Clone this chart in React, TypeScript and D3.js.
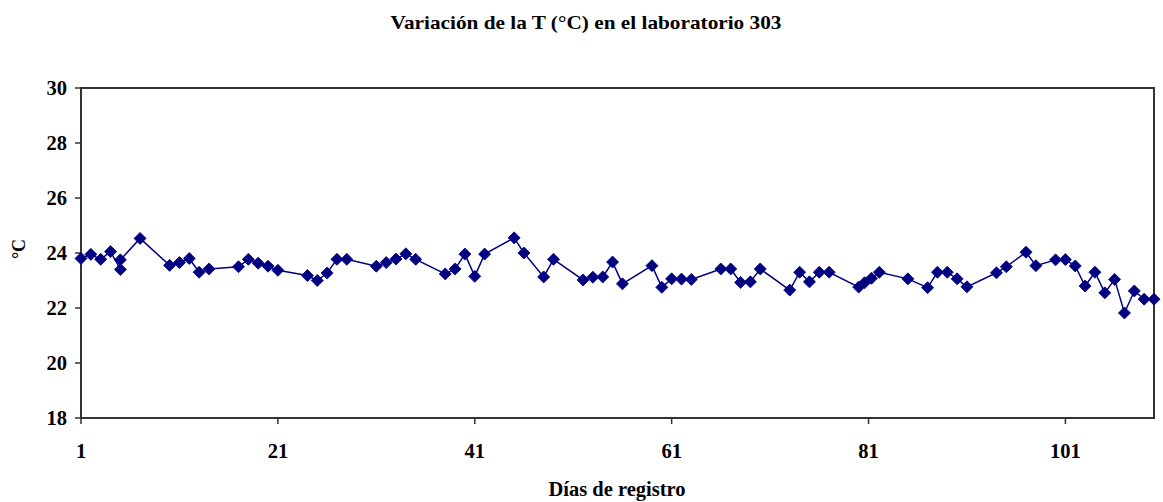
import React from "react";
import * as d3 from "d3";

const title = "Variación de la T (°C) en el laboratorio 303";
const xLabel = "Días de registro";
const yLabel = "°C";

const days = [
  1, 2, 3, 4, 5, 5, 7, 10, 11, 12, 13, 14, 17, 18, 19, 20, 21, 24, 25, 26, 27, 28,
  31, 32, 33, 34, 35, 38, 39, 40, 41, 42, 45, 46, 48, 49, 52, 53, 54, 55, 56,
  59, 60, 61, 62, 63, 66, 67, 68, 69, 70, 73, 74, 75, 76, 77, 80, 80.6, 81.3, 82.1,
  85, 87, 88, 89, 90, 91, 94, 95, 97, 98, 100, 101, 102, 103, 104, 105, 106, 107,
  108, 109, 110,
];
const temps = [
  23.8, 23.95, 23.77, 24.05, 23.4, 23.75, 24.53, 23.55, 23.65, 23.8, 23.3, 23.42,
  23.5, 23.77, 23.63, 23.52, 23.37, 23.18, 23.0, 23.27, 23.77, 23.77,
  23.52, 23.65, 23.78, 23.97, 23.77, 23.24, 23.42, 23.96, 23.15, 23.96, 24.55,
  24.0, 23.13, 23.77, 23.02, 23.12, 23.13, 23.67, 22.88,
  23.54, 22.75, 23.06, 23.05, 23.04, 23.42, 23.42, 22.93, 22.95, 23.42, 22.65,
  23.3, 22.95, 23.3, 23.3, 22.76, 22.92, 23.08, 23.3,
  23.06, 22.74, 23.3, 23.3, 23.06, 22.77, 23.28, 23.5, 24.03, 23.54, 23.75,
  23.76, 23.53, 22.8, 23.3, 22.55, 23.04, 21.82, 22.62, 22.32, 22.32,
];
const xTicks = [1, 21, 41, 61, 81, 101];
const yTicks = [18, 20, 22, 24, 26, 28, 30];

const W = 1163;
const H = 502;
const M = { left: 81, right: 1154, top: 88, bottom: 418 };
const NAVY = "#000080";
const AXIS = "#333333";
const FONT = "'Liberation Serif', 'Times New Roman', serif";

export default function App() {
  const x = d3.scaleLinear().domain([1, 110]).range([M.left, M.right]);
  const y = d3.scaleLinear().domain([18, 30]).range([M.bottom, M.top]);
  const data = days.map((d, i) => ({ d, t: temps[i] }));
  const line = d3
    .line<{ d: number; t: number }>()
    .x((p) => x(p.d))
    .y((p) => y(p.t));
  const diamond = d3.symbol().type(d3.symbolSquare).size(72)() as string;

  return (
    <svg
      width={W}
      height={H}
      style={{ position: "absolute", left: 0, top: 0, background: "#fff" }}
      fontFamily={FONT}
    >
      <text
        x={586}
        y={29}
        textAnchor="middle"
        fontSize={19}
        fontWeight="bold"
        textLength={391}
        lengthAdjust="spacingAndGlyphs"
      >
        {title}
      </text>

      <rect
        x={M.left}
        y={M.top}
        width={M.right - M.left}
        height={M.bottom - M.top}
        fill="none"
        stroke={AXIS}
        strokeWidth={2}
      />

      {yTicks.map((t) => (
        <g key={"y" + t}>
          <line x1={M.left - 6} x2={M.left} y1={y(t)} y2={y(t)} stroke={AXIS} strokeWidth={1.5} />
          <text
            x={67}
            y={y(t)}
            dy="0.35em"
            textAnchor="end"
            fontSize={20.5}
            fontWeight="bold"
          >
            {t}
          </text>
        </g>
      ))}

      {xTicks.map((t) => (
        <g key={"x" + t}>
          <line x1={x(t)} x2={x(t)} y1={M.bottom} y2={M.bottom + 6} stroke={AXIS} strokeWidth={1.5} />
          <text x={x(t)} y={458} textAnchor="middle" fontSize={20.5} fontWeight="bold">
            {t}
          </text>
        </g>
      ))}

      <text
        transform={`translate(25,249) rotate(-90)`}
        textAnchor="middle"
        fontSize={18}
        fontWeight="bold"
      >
        {yLabel}
      </text>
      <text x={617} y={496} textAnchor="middle" fontSize={20.5} fontWeight="bold">
        {xLabel}
      </text>

      <path d={line(data) || ""} fill="none" stroke={NAVY} strokeWidth={1.5} />
      {data.map((p, i) => (
        <path
          key={i}
          d={diamond}
          transform={`translate(${x(p.d)},${y(p.t)}) rotate(45)`}
          fill={NAVY}
          stroke={NAVY}
          strokeWidth={0.8}
        />
      ))}
    </svg>
  );
}
